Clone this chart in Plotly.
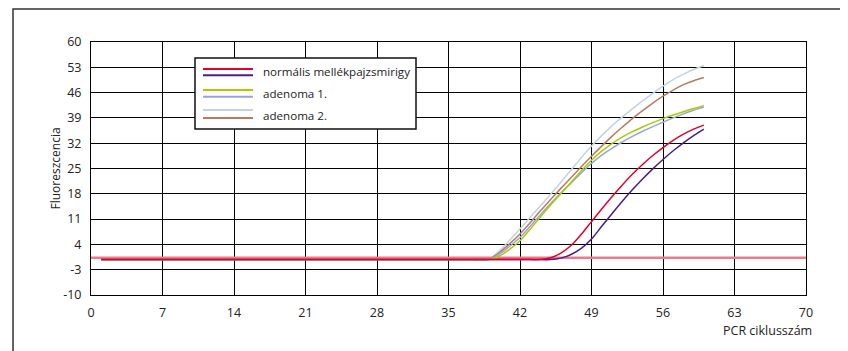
import plotly.graph_objects as go

# ---------------- data ----------------
cycles = list(range(1, 61))

def series(baseline, rise_start, rise_vals):
    # baseline value until rise_start-1, then the read values
    return [baseline] * (rise_start - 1) + rise_vals

BASE = -0.2
# values read for cycles 39..60
adenoma2_a_rise = [0.0, 2.3, 5.2, 8.3, 11.5, 14.7, 17.9, 21.2, 24.6, 28.0, 31.2, 34.1,
                   36.8, 39.2, 41.5, 43.7, 45.8, 47.8, 49.6, 51.1, 52.4, 53.5]
adenoma2_b_rise = [0.0, 1.8, 4.2, 6.9, 10.0, 13.3, 16.4, 19.5, 22.5, 25.5, 28.4, 31.2,
                   33.9, 36.4, 38.8, 41.0, 43.1, 45.0, 46.7, 48.2, 49.3, 50.2]
adenoma1_a_rise = [-0.2, 0.8, 2.7, 5.0, 8.2, 11.6, 14.9, 18.0, 21.2, 24.4, 27.3, 29.8,
                   31.9, 33.7, 35.2, 36.5, 37.7, 38.8, 39.8, 40.7, 41.6, 42.4]
adenoma1_b_rise = [-0.1, 1.3, 3.5, 5.9, 9.0, 12.2, 15.3, 18.2, 21.0, 23.8, 26.4, 28.7,
                   30.6, 32.3, 33.9, 35.3, 36.6, 37.8, 39.0, 40.1, 41.1, 42.0]
# values read for cycles 45..60
normal_a_rise = [0.3, 1.6, 3.7, 6.8, 10.3, 13.8, 17.2, 20.4, 23.4, 26.1, 28.6, 30.8,
                 32.8, 34.5, 35.9, 37.0]
normal_b_rise = [-0.2, 0.2, 1.2, 2.9, 5.5, 9.0, 12.5, 15.9, 19.1, 22.1, 24.9, 27.5,
                 29.9, 32.1, 34.1, 35.9]

normal_a = series(BASE, 45, normal_a_rise)
normal_b = series(BASE, 45, normal_b_rise)
adenoma1_a = series(BASE, 39, adenoma1_a_rise)
adenoma1_b = series(BASE, 39, adenoma1_b_rise)
adenoma2_a = series(BASE, 39, adenoma2_a_rise)
adenoma2_b = series(BASE, 39, adenoma2_b_rise)

threshold_x = [0, 70]
threshold_y = [0.3, 0.3]

x_ticks = [0, 7, 14, 21, 28, 35, 42, 49, 56, 63, 70]
y_ticks = [-10, -3, 4, 11, 18, 25, 32, 39, 46, 53, 60]

legend_labels = ["normális mellékpajzsmirigy", "adenoma 1.", "adenoma 2."]

# ---------------- styling ----------------
C_RED = "#e4002b"
C_PURPLE = "#4a1c8c"
C_GREEN = "#a8cc00"
C_LAV = "#9aa5d8"
C_LBLUE = "#c3d3e0"
C_BROWN = "#b87b60"
C_THR = "#ec7a8c"
FONT = "Open Sans"

OFF = 8                      # page body margin
W, H = 848 - OFF, 351 - OFF
# plot area in page pixels
L, R, T, B = 91, 806, 42, 295

def px(xp):
    return (xp - L) / (R - L)

def py(yp):
    return (B - yp) / (B - T)

fig = go.Figure()

fig.add_trace(go.Scatter(x=threshold_x, y=threshold_y, mode="lines",
                         line=dict(color=C_THR, width=2.5), hoverinfo="skip"))

for ys, col in [(adenoma2_a, C_LBLUE), (adenoma2_b, C_BROWN),
                (adenoma1_b, C_LAV), (adenoma1_a, C_GREEN),
                (normal_b, C_PURPLE), (normal_a, C_RED)]:
    fig.add_trace(go.Scatter(x=cycles, y=ys, mode="lines",
                             line=dict(color=col, width=1.5, shape="spline", smoothing=1.0)))

shapes = []
# outer frame
shapes.append(dict(type="rect", xref="paper", yref="paper",
                   x0=px(13), x1=px(842), y0=py(370), y1=py(9),
                   line=dict(color="#333333", width=1.5), fillcolor="rgba(0,0,0,0)",
                   layer="above"))
# legend box
shapes.append(dict(type="rect", xref="paper", yref="paper",
                   x0=px(195), x1=px(416), y0=py(129), y1=py(58),
                   line=dict(color="#111111", width=1.5), fillcolor="white",
                   layer="above"))
legend_lines = [(69, C_RED), (75.3, C_PURPLE), (90, C_GREEN), (96.7, C_LAV),
                (110, C_LBLUE), (118, C_BROWN)]
for yy, col in legend_lines:
    shapes.append(dict(type="line", xref="paper", yref="paper",
                       x0=px(203), x1=px(253), y0=py(yy), y1=py(yy),
                       line=dict(color=col, width=2), layer="above"))

annotations = []
for lab, yy in zip(legend_labels, [71.7, 93.3, 115]):
    annotations.append(dict(text=lab, xref="paper", yref="paper", x=px(261), y=py(yy),
                            xanchor="left", yanchor="middle", showarrow=False,
                            font=dict(family=FONT, size=11.6, color="#222222")))
annotations.append(dict(text="PCR ciklusszám", xref="paper", yref="paper",
                        x=px(814), y=py(330), xanchor="right", yanchor="middle",
                        showarrow=False, font=dict(family=FONT, size=12.5, color="#222222")))
annotations.append(dict(text="Fluoreszcencia", xref="paper", yref="paper",
                        x=px(55), y=0.5, xanchor="center", yanchor="middle",
                        textangle=-90, showarrow=False,
                        font=dict(family=FONT, size=12, color="#222222")))

fig.update_layout(
    width=W, height=H,
    margin=dict(l=L - OFF, r=W - (R - OFF), t=T - OFF, b=H - (B - OFF), pad=0),
    paper_bgcolor="white", plot_bgcolor="white",
    showlegend=False,
    font=dict(family=FONT, size=12.5, color="#222222"),
    shapes=shapes, annotations=annotations,
    xaxis=dict(range=[0, 70], tickvals=x_ticks, ticktext=[str(v) for v in x_ticks],
               showgrid=True, gridcolor="black", gridwidth=1,
               showline=True, linecolor="black", linewidth=1, mirror=True,
               zeroline=False, ticks="", ticklabelstandoff=6, fixedrange=True),
    yaxis=dict(range=[-10, 60], tickvals=y_ticks, ticktext=[str(v) for v in y_ticks],
               showgrid=True, gridcolor="black", gridwidth=1,
               showline=True, linecolor="black", linewidth=1, mirror=True,
               zeroline=False, ticks="", ticklabelstandoff=6, fixedrange=True),
)

fig.write_html("out.html")
